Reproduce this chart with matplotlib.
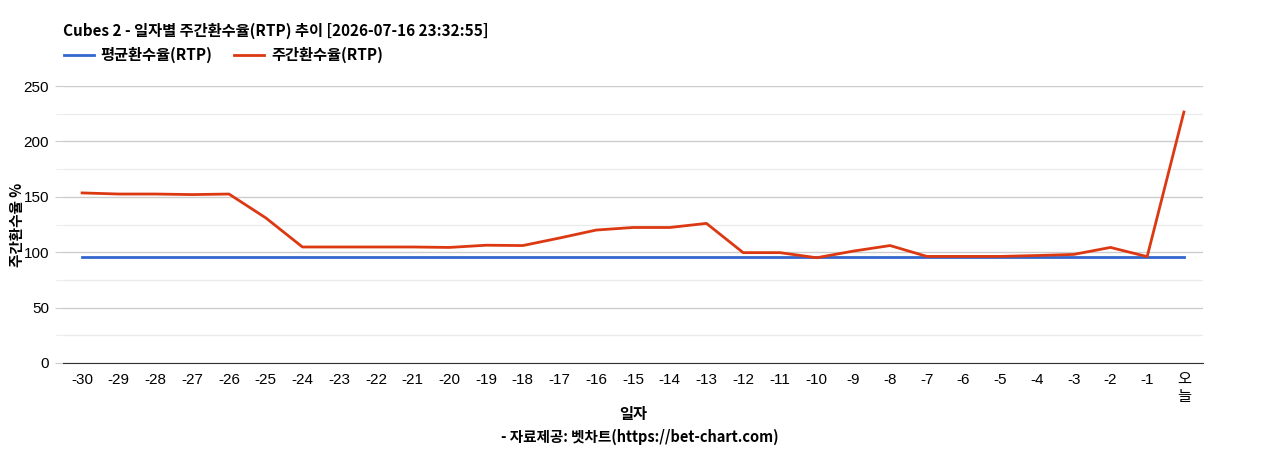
import numpy as np
import matplotlib.pyplot as plt
from matplotlib.ticker import MultipleLocator

plt.rcParams['font.family'] = ['Noto Sans CJK KR', 'DejaVu Sans']

days = ["-30", "-29", "-28", "-27", "-26", "-25", "-24", "-23", "-22", "-21",
        "-20", "-19", "-18", "-17", "-16", "-15", "-14", "-13", "-12", "-11",
        "-10", "-9", "-8", "-7", "-6", "-5", "-4", "-3", "-2", "-1", "오\n늘"]
avg_rtp = [96] * len(days)
week_rtp = [153.5, 152.5, 152.5, 152, 152.5, 131, 104.7, 104.7, 104.7, 104.7,
            104.3, 106.3, 106, 112.8, 120, 122.3, 122.3, 126, 99.6, 99.6,
            95, 101, 106, 96.2, 96.2, 96.2, 97, 98, 104.3, 96, 226.5]

fig = plt.figure(figsize=(12.68, 4.5), dpi=100)
ax = fig.add_axes([63/1268, 1 - 363/450, 1140/1268, 277/450])

x = np.arange(len(days))
ax.plot(x, avg_rtp, color='#3366cc', lw=2, label='평균환수율(RTP)', zorder=3)
ax.plot(x, week_rtp, color='#dc3912', lw=2, label='주간환수율(RTP)', zorder=4)

ax.set_xlim(-0.52, len(days) - 1 + 0.52)
ax.set_ylim(0, 250)
ax.yaxis.set_major_locator(MultipleLocator(50))
ax.yaxis.set_minor_locator(MultipleLocator(25))
ax.grid(which='major', axis='y', color='#cccccc', lw=1, zorder=0)
ax.grid(which='minor', axis='y', color='#ebebeb', lw=1, zorder=0)

for s in ['top', 'right', 'left']:
    ax.spines[s].set_visible(False)
ax.spines['bottom'].set_color('#333333')

ax.set_xticks(x)
ax.set_xticklabels(days, family=['Liberation Sans', 'Noto Sans CJK KR'], fontsize=11,
                   linespacing=1.3, va='top')
ax.tick_params(axis='x', length=0, pad=7)
ax.tick_params(axis='y', which='major', length=6, color='#cccccc', labelsize=11, pad=4)
ax.tick_params(axis='y', which='minor', length=6, color='#ebebeb')
for lab in ax.get_yticklabels():
    lab.set_family(['Liberation Sans'])

ax.set_ylabel('주간환수율 %', fontsize=10.5, fontweight='bold')
ax.yaxis.set_label_coords(-38/1140, 0.5)

fig.text(63/1268, 1 - 31/450, 'Cubes 2 - 일자별 주간환수율(RTP) 추이 [2026-07-16 23:32:55]',
         fontsize=11, fontweight='bold', va='center', ha='left')
fig.legend(loc='center left', bbox_to_anchor=(50/1268, 1 - 55/450), ncol=2,
           frameon=False, prop={'weight': 'bold', 'size': 11},
           handlelength=1.95, columnspacing=1.45, handletextpad=0.45)
fig.text(633/1268, 1 - 414/450, '일자', fontsize=11, fontweight='bold', ha='center', va='center')
fig.text(640/1268, 1 - 437/450, '- 자료제공: 벳차트(https://bet-chart.com)',
         fontsize=10.5, fontweight='bold', ha='center', va='center')

fig.savefig('out.png', dpi=100)
